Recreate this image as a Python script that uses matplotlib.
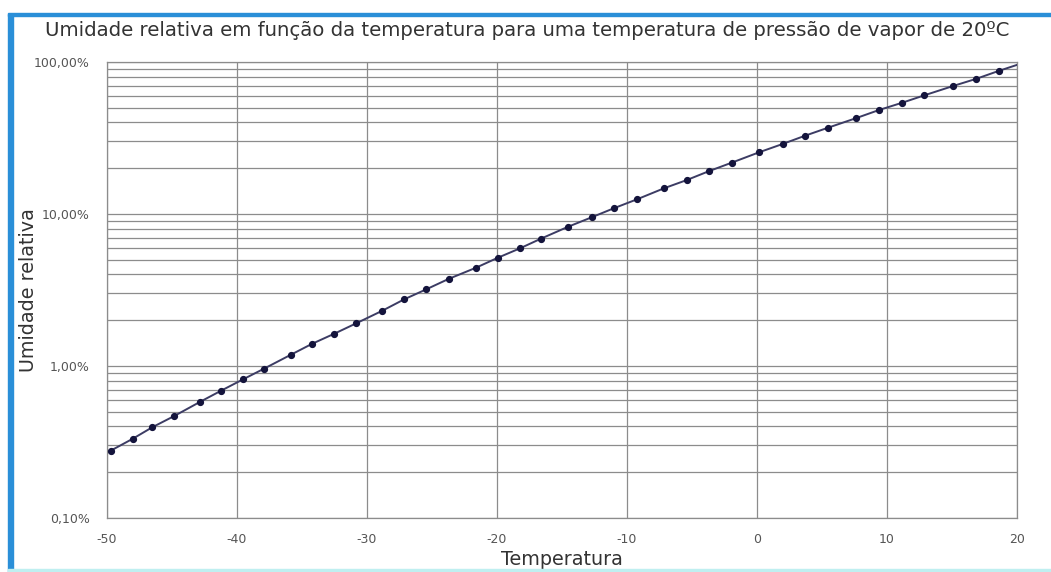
import numpy as np
import matplotlib
matplotlib.use("Agg")
import matplotlib.pyplot as plt
from matplotlib.ticker import FixedLocator, FuncFormatter, LogLocator, NullFormatter
from matplotlib.patches import Rectangle

# Data (temperature in degC, relative humidity in %)
temp = [-49.7, -48.0, -46.5, -44.8, -42.8, -41.2, -39.5, -37.9, -35.8, -34.2,
        -32.5, -30.8, -28.8, -27.1, -25.4, -23.7, -21.6, -19.9, -18.2, -16.6,
        -14.5, -12.7, -11.0, -9.2, -7.1, -5.4, -3.7, -1.9, 0.2, 2.0,
        3.7, 5.5, 7.6, 9.4, 11.2, 12.9, 15.1, 16.9, 18.6]
rh = [0.277, 0.332, 0.395, 0.469, 0.582, 0.688, 0.818, 0.960, 1.19, 1.40,
      1.63, 1.91, 2.31, 2.75, 3.20, 3.74, 4.43, 5.16, 5.95, 6.88,
      8.25, 9.51, 10.9, 12.5, 14.8, 16.7, 19.1, 21.8, 25.5, 28.9,
      32.7, 37.0, 42.6, 48.3, 54.0, 60.4, 69.5, 77.6, 87.3]
# line continues to the right edge without a marker
line_end_t = 20
line_end_rh = 95.6

x_ticks = [-50, -40, -30, -20, -10, 0, 10, 20]
y_ticks = [0.1, 1, 10, 100]

title = "Umidade relativa em função da temperatura para uma temperatura de pressão de vapor de 20ºC"

plt.rcParams['font.family'] = ['DejaVu Sans']

fig = plt.figure(figsize=(10.51, 5.72), dpi=100)
ax = fig.add_axes([0.1015, 0.0944, 0.8659, 0.7972])

line_t = temp + [line_end_t]
line_rh = rh + [line_end_rh]
ax.plot(line_t, line_rh, color='#3c3c64', lw=1.4, zorder=3)
ax.plot(temp, rh, ls='none', marker='o', ms=4.2, color='#14143c', zorder=4)

ax.set_yscale('log')
ax.set_xlim(-50, 20)
ax.set_ylim(0.1, 100)

ax.xaxis.set_major_locator(FixedLocator(x_ticks))
ax.xaxis.set_major_formatter(FuncFormatter(lambda v, p: f"{v:.0f}"))
ax.yaxis.set_major_locator(FixedLocator(y_ticks))
ax.yaxis.set_minor_locator(LogLocator(base=10, subs=np.arange(2, 10)))
ax.yaxis.set_minor_formatter(NullFormatter())
ax.yaxis.set_major_formatter(FuncFormatter(lambda v, p: f"{v:.2f}%".replace('.', ',')))

ax.grid(True, which='major', color='#8c8c8c', lw=0.9)
ax.grid(True, which='minor', axis='y', color='#8c8c8c', lw=0.9)
ax.set_axisbelow(True)

for s in ax.spines.values():
    s.set_color('#8c8c8c')
    s.set_linewidth(0.9)

ax.tick_params(which='both', length=0, colors='#555555', labelsize=9)
ax.tick_params(axis='y', pad=12)
ax.tick_params(axis='x', pad=11)

ax.set_xlabel("Temperatura", fontsize=13.8, color='#333333', labelpad=3)
ax.set_ylabel("Umidade relativa", fontsize=13.8, color='#333333')
ax.yaxis.set_label_coords(-0.076, 0.5)
fig.text(0.502, 0.946, title, ha='center', va='center', fontsize=14.2, color='#333333')

# blue frame around the picture
fig.patches.append(Rectangle((0.008, 0.0), 0.004, 0.975, transform=fig.transFigure,
                             color='#2a8fd8', zorder=0))
fig.patches.append(Rectangle((0.008, 0.972), 0.992, 0.006, transform=fig.transFigure,
                             color='#2a8fd8', zorder=0))
fig.patches.append(Rectangle((0.008, 0.0), 0.992, 0.006, transform=fig.transFigure,
                             color='#bfeff0', zorder=0))

fig.savefig("out.png", dpi=100)
